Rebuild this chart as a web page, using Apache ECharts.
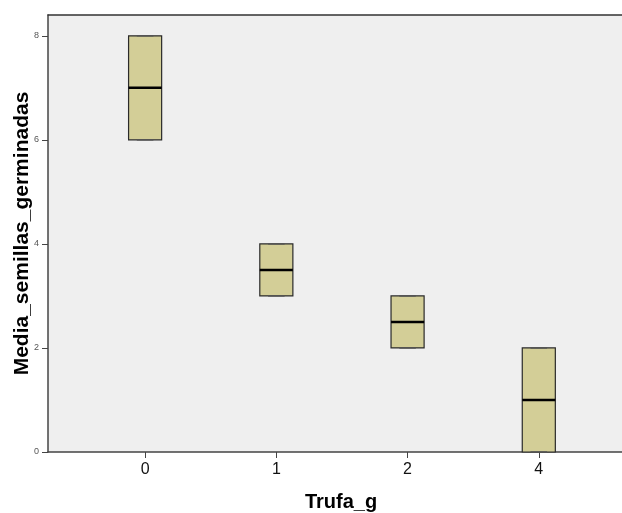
<!DOCTYPE html>
<html>
<head>
<meta charset="utf-8">
<script src="https://cdn.jsdelivr.net/npm/echarts@6/dist/echarts.min.js"></script>
<style>html,body{margin:0;padding:0;background:#fff}#c{width:622px;height:513px}</style>
</head>
<body>
<div id="c"></div>
<script>
var categories = ["0", "1", "2", "4"];
var mins    = [6, 3, 2, 0];
var q1s     = [6, 3, 2, 0];
var medians = [7, 3.5, 2.5, 1];
var q3s     = [8, 4, 3, 2];
var maxs    = [8, 4, 3, 2];

var data = categories.map(function (c, i) {
  return [i, mins[i], q1s[i], medians[i], q3s[i], maxs[i]];
});

var chart = echarts.init(document.getElementById('c'));
var BOXW = 0.252;
chart.setOption({
  animation: false,
  grid: { left: 48, right: 0, top: 15, bottom: 61, show: true, backgroundColor: '#efefef', borderWidth: 0,
    outerBoundsMode: 'none', containLabel: false },
  xAxis: [{
    type: 'value', min: -0.74, max: 3.634,
    name: 'Trufa_g', nameLocation: 'middle', nameGap: 40, nameMoveOverlap: false,
    nameTextStyle: { fontFamily: 'Liberation Sans', fontWeight: 'bold', fontSize: 20, color: '#000', padding: [0, 0, 0, 12] },
    axisLine: { onZero: false, lineStyle: { color: '#444', width: 1.5 } },
    axisTick: { show: true, length: 6, customValues: [0, 1, 2, 3], lineStyle: { color: '#444' } },
    axisLabel: { customValues: [0, 1, 2, 3], formatter: function (v) { return categories[Math.round(v)]; },
      fontFamily: 'Liberation Sans', fontSize: 16, color: '#111', margin: 10 },
    splitLine: { show: false }
  }, {
    type: 'value', position: 'top', min: -0.74, max: 3.634,
    axisLine: { show: true, onZero: false, lineStyle: { color: '#333', width: 1.5 } },
    axisTick: { show: false }, axisLabel: { show: false }, splitLine: { show: false }
  }],
  yAxis: {
    type: 'value', min: 0, max: 8.4, interval: 2,
    name: 'Media_semillas_germinadas', nameLocation: 'middle', nameGap: 15, nameMoveOverlap: false,
    nameTextStyle: { fontFamily: 'Liberation Sans', fontWeight: 'bold', fontSize: 21, color: '#000' },
    axisLine: { show: true, onZero: false, lineStyle: { color: '#444', width: 1.5 } },
    axisTick: { show: true, length: 6, lineStyle: { color: '#444' } },
    axisLabel: { fontFamily: 'Liberation Sans', fontSize: 9, color: '#555', margin: 9, showMaxLabel: false },
    splitLine: { show: false }
  },
  series: [{
    type: 'custom',
    xAxisIndex: 0,
    data: data,
    renderItem: function (params, api) {
      var x = api.value(0);
      var lo = api.coord([x - BOXW / 2, api.value(2)]);
      var hi = api.coord([x + BOXW / 2, api.value(4)]);
      var mL = api.coord([x - BOXW / 2, api.value(3)]);
      var mR = api.coord([x + BOXW / 2, api.value(3)]);
      var wMin = api.coord([x, api.value(1)]);
      var wMax = api.coord([x, api.value(5)]);
      var cL = api.coord([x - BOXW / 4, 0])[0];
      var cR = api.coord([x + BOXW / 4, 0])[0];
      var stroke = { stroke: '#2a2a2a', lineWidth: 1 };
      return {
        type: 'group',
        children: [
          { type: 'line', shape: { x1: wMax[0], y1: wMax[1], x2: wMax[0], y2: hi[1] }, style: stroke },
          { type: 'line', shape: { x1: wMin[0], y1: wMin[1], x2: wMin[0], y2: lo[1] }, style: stroke },
          { type: 'rect', shape: { x: lo[0], y: hi[1], width: hi[0] - lo[0], height: lo[1] - hi[1] },
            style: { fill: '#d3ce97', stroke: '#2a2a2a', lineWidth: 1.2 } },
          { type: 'line', shape: { x1: cL, y1: wMax[1], x2: cR, y2: wMax[1] }, style: { stroke: '#555', lineWidth: 1.5 } },
          { type: 'line', shape: { x1: cL, y1: wMin[1], x2: cR, y2: wMin[1] }, style: { stroke: '#555', lineWidth: 1.5 } },
          { type: 'line', shape: { x1: mL[0], y1: mL[1], x2: mR[0], y2: mR[1] }, style: { stroke: '#000', lineWidth: 2.5 } }
        ]
      };
    }
  }]
});
</script>
</body>
</html>
